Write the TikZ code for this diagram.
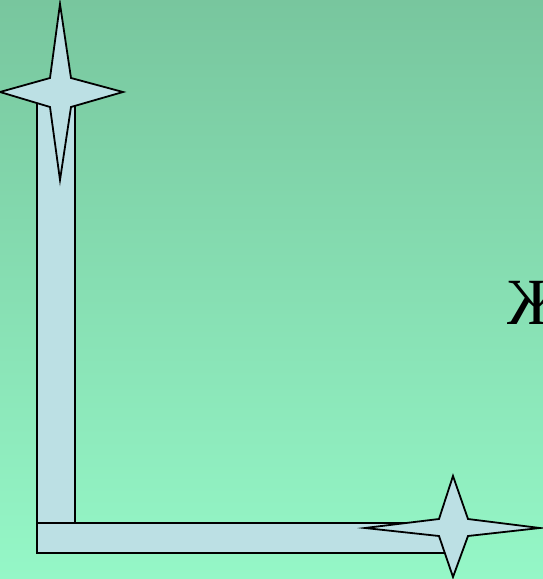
\documentclass[tikz,border=0pt]{standalone}
\usepackage{fontspec}
\setmainfont{Liberation Serif}
\begin{document}
\begin{tikzpicture}[
    x=1pt, y=-1pt,
    bar/.style={draw, line width=1.8pt, fill=barblue},
    sparkle/.style={draw, line width=1.8pt, fill=barblue, line join=miter},
    letter/.style={inner sep=0pt, anchor=base west, font=\fontsize{66}{66}\selectfont}
  ]
    \definecolor{bgtop}{RGB}{120,198,158}
    \definecolor{bgbottom}{RGB}{149,247,199}
    \definecolor{barblue}{RGB}{188,224,228}
    % background
    \shade[top color=bgtop, bottom color=bgbottom] (0,0) rectangle (543,579);
    \useasboundingbox (0,0) rectangle (543,579);
    % the two bars
    \draw[bar] (37,100) rectangle (75,553);
    \draw[bar] (37,523) rectangle (446,553);
    % the two stars
    \draw[sparkle] (60,4) -- (71,78) -- (123,92) -- (71,107) -- (60,180)
      -- (50,107) -- (0,92) -- (50,78) -- cycle;
    \draw[sparkle] (453,476) -- (468,519) -- (540,528) -- (468,536) -- (453,577)
      -- (439,536) -- (365,528) -- (439,519) -- cycle;
    % letter at the right edge
    \node[letter] (zhe) at (507,324) {Ж};
  \end{tikzpicture}
\end{document}
